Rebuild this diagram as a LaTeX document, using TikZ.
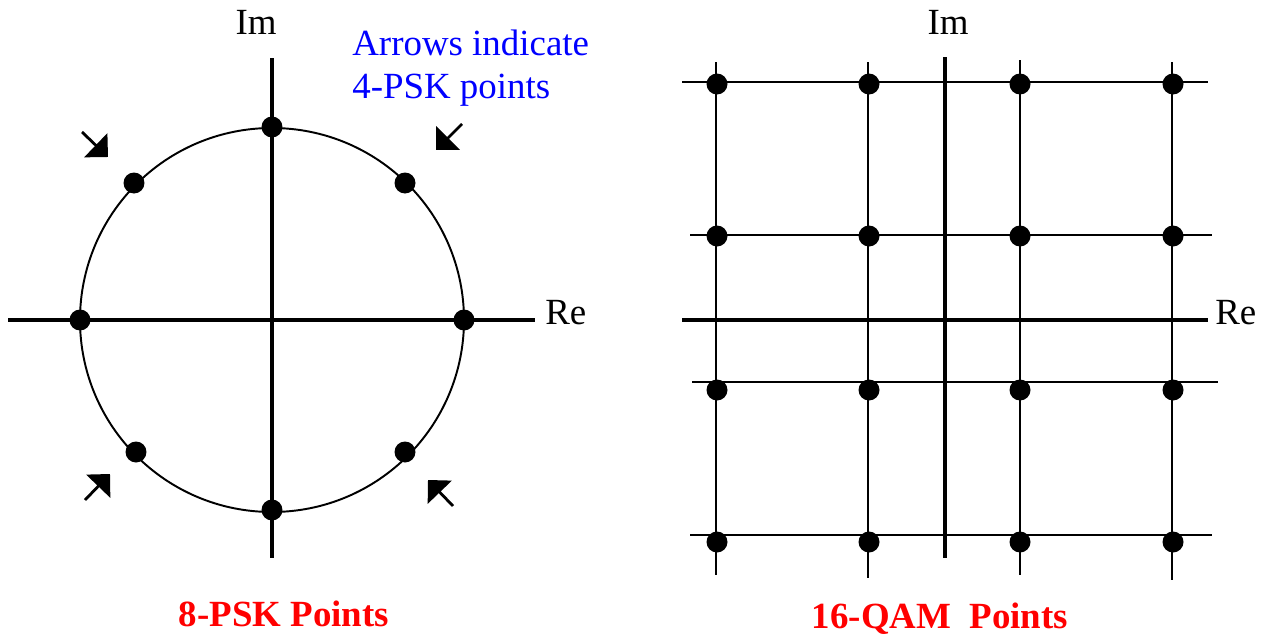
\documentclass[tikz,border=0pt]{standalone}
\usepackage{fontspec}
\setmainfont{Liberation Serif}
\usetikzlibrary{arrows.meta}

\tikzset{
  axis/.style={line width=2.3pt},
  thin/.style={line width=1.1pt},
  dot/.style={circle,fill,inner sep=0pt,minimum size=0.42cm},
  pointer/.style={line width=1.6pt,-{Triangle[length=0.34cm,width=0.66cm]}},
  lbl/.style={font=\fontsize{21}{24}\selectfont,inner sep=0pt}
}

\begin{document}
\begin{tikzpicture}[x=0.02cm,y=-0.02cm]
  \useasboundingbox (0,0) rectangle (1269,636);

  % 8-PSK: axes and circle
  \draw[axis] (8,320) -- (535,320);
  \draw[axis] (272,58) -- (272,558);
  \draw[thin] (272,320) circle (192);

  % The eight points
  \node[dot] (p0) at (464,320) {};
  \node[dot] (p1) at (405,183) {};
  \node[dot] (p2) at (272,127) {};
  \node[dot] (p3) at (134,183) {};
  \node[dot] (p4) at (80,320) {};
  \node[dot] (p5) at (136,452) {};
  \node[dot] (p6) at (272,510) {};
  \node[dot] (p7) at (405,452) {};

  % Arrows towards the 4-PSK points
  \coordinate (ul-tail) at (82,132);  \coordinate (ul-tip) at (108,157);
  \coordinate (ur-tail) at (462,124); \coordinate (ur-tip) at (436,150);
  \coordinate (ll-tail) at (85,500);  \coordinate (ll-tip) at (110,474);
  \coordinate (lr-tail) at (453,506); \coordinate (lr-tip) at (428,480);
  \draw[pointer] (ul-tail) -- (ul-tip);
  \draw[pointer] (ur-tail) -- (ur-tip);
  \draw[pointer] (ll-tail) -- (ll-tip);
  \draw[pointer] (lr-tail) -- (lr-tip);

  % Labels of the left plot
  \node[lbl] (im-psk) at (256,22) {Im};
  \node[lbl,anchor=west] (re-psk) at (545,313) {Re};
  \node[lbl,blue,align=left,anchor=north west] (note) at (352,30)
    {Arrows indicate\\4-PSK points};
  \node[lbl,red,font=\fontsize{21}{24}\selectfont\bfseries,anchor=base]
    (psk-title) at (284,626) {8-PSK Points};

  % 16-QAM: grid lines
  \draw[thin] (682,82) -- (1208,82);
  \draw[thin] (690,235) -- (1212,235);
  \draw[thin] (692,382) -- (1218,382);
  \draw[thin] (690,535) -- (1212,535);
  \draw[thin] (716,62) -- (716,575);
  \draw[thin] (868,62) -- (868,578);
  \draw[thin] (1020,60) -- (1020,575);
  \draw[thin] (1172,62) -- (1172,580);
  \draw[axis] (682,320) -- (1208,320);
  \draw[axis] (945,57) -- (945,558);

  % The sixteen points
  \foreach \x [count=\i] in {717,869,1020,1173}
    \foreach \y [count=\j] in {84,236,390,542}
      \node[dot] (q\i\j) at (\x,\y) {};

  % Labels of the right plot
  \node[lbl] (im-qam) at (948,22) {Im};
  \node[lbl,anchor=west] (re-qam) at (1215,313) {Re};
  \node[lbl,red,font=\fontsize{21}{24}\selectfont\bfseries,anchor=base]
    (qam-title) at (940,628) {16-QAM\ \ Points};
\end{tikzpicture}
\end{document}
